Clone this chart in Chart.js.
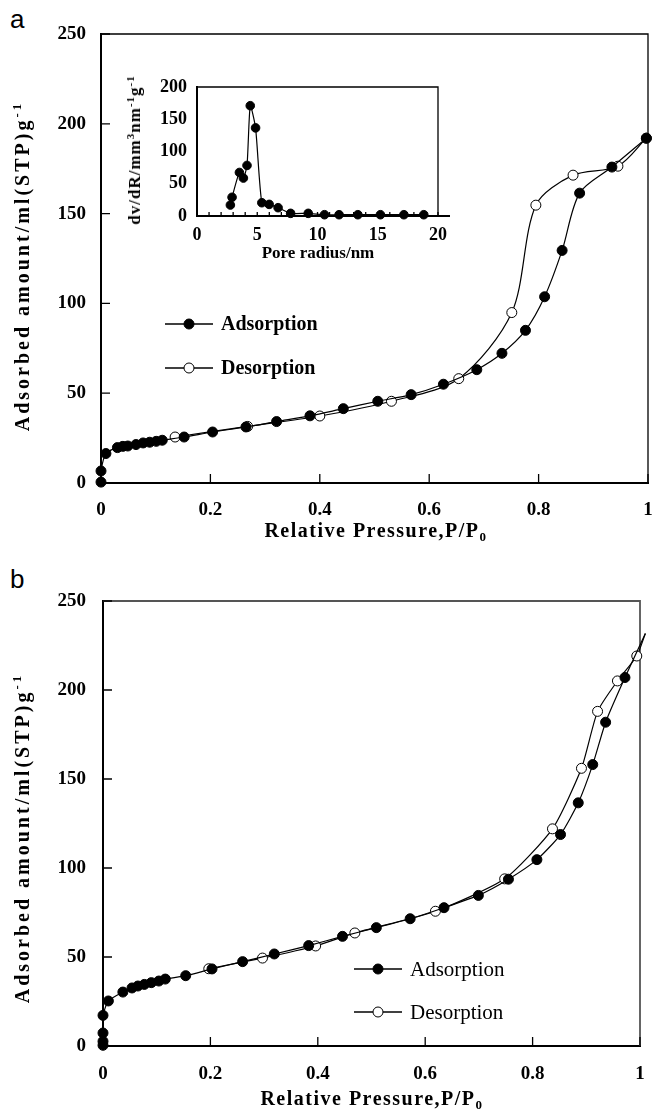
<!DOCTYPE html>
<html>
<head>
<meta charset="utf-8">
<script src="https://cdn.jsdelivr.net/npm/chart.js@4.4.0/dist/chart.umd.min.js"></script>
<style>
  body { margin: 0; background: #fff; width: 654px; height: 1116px; position: relative; overflow: hidden; }
  canvas { position: absolute; }
  .t { position: absolute; font: bold 20px "Liberation Serif", serif; white-space: nowrap; transform: translate(-50%, -50%); color: #000; letter-spacing: 1.5px; }
  .yt { transform: translate(-50%, -50%) rotate(-90deg); letter-spacing: 3px; }
  .t sup { font-size: 0.65em; vertical-align: 0.55em; line-height: 0; }
  .t sub { font-size: 0.65em; vertical-align: -0.35em; line-height: 0; }
  .panel { position: absolute; font: 26px "Liberation Sans", sans-serif; }
</style>
</head>
<body>
<div class="panel" style="left:10px;top:4px">a</div>
<div class="panel" style="left:10px;top:564px">b</div>

<canvas id="chartA" width="654" height="550" style="left:0;top:0;width:654px;height:550px"></canvas>
<canvas id="inset" width="340" height="200" style="left:120px;top:60px;width:340px;height:200px"></canvas>
<canvas id="chartB" width="654" height="556" style="left:0;top:560px;width:654px;height:556px"></canvas>

<div class="t yt" style="left:22px;top:266px">Adsorbed amount/ml(STP)g<sup>-1</sup></div>
<div class="t" style="left:376px;top:530px">Relative Pressure,P/P<sub>0</sub></div>
<div class="t yt" style="left:135px;top:150px;font-size:17px;letter-spacing:1px">dv/dR/mm<sup>3</sup>nm<sup>-1</sup>g<sup>-1</sup></div>
<div class="t" style="left:318px;top:253px;font-size:17px;letter-spacing:0">Pore radius/nm</div>
<div class="t yt" style="left:22px;top:838px">Adsorbed amount/ml(STP)g<sup>-1</sup></div>
<div class="t" style="left:372px;top:1098px">Relative Pressure,P/P<sub>0</sub></div>

<script>
// panel a isotherm
const aAdsP = [0, 0, 0.009, 0.030, 0.040, 0.049, 0.064, 0.077, 0.089, 0.101, 0.112, 0.152, 0.204, 0.265, 0.321, 0.382, 0.443, 0.506, 0.567, 0.626, 0.687, 0.733, 0.776, 0.811, 0.843, 0.875, 0.934, 0.997];
const aAdsV = [0.5, 6.7, 16.4, 19.7, 20.4, 20.6, 21.4, 22.3, 22.7, 23.2, 23.8, 25.6, 28.4, 31.2, 34.2, 37.4, 41.4, 45.5, 49.2, 55.0, 63.1, 72.2, 85.0, 103.7, 129.5, 161.4, 175.9, 192];
const aDesP = [0.1355, 0.268, 0.400, 0.531, 0.654, 0.751, 0.795, 0.863, 0.945, 0.997];
const aDesV = [25.6, 31.5, 37.3, 45.5, 58.1, 94.9, 154.7, 171.4, 176.4, 192];

// inset: pore size distribution
const poreR = [2.77, 2.91, 3.52, 3.85, 4.15, 4.42, 4.86, 5.38, 5.99, 6.73, 7.77, 9.23, 10.58, 11.79, 13.35, 15.22, 17.17, 18.82];
const poreDv = [17, 29, 67.5, 58.8, 78.4, 171, 136.6, 20.6, 18, 12.9, 4.1, 4.1, 2, 2, 2, 2, 2, 2];

// panel b isotherm (last point only continues the line past P/P0 = 1)
const bAdsP = [0, 0, 0, 0, 0.010, 0.037, 0.054, 0.065, 0.077, 0.090, 0.104, 0.116, 0.154, 0.203, 0.260, 0.319, 0.383, 0.446, 0.509, 0.572, 0.635, 0.699, 0.755, 0.808, 0.852, 0.885, 0.912, 0.936, 0.972, 1.01];
const bAdsV = [0.4, 2.6, 7.3, 17.2, 25.3, 30.3, 32.6, 33.7, 34.6, 35.6, 36.5, 37.6, 39.5, 43.3, 47.4, 51.7, 56.4, 61.6, 66.5, 71.5, 77.7, 84.6, 93.7, 104.7, 118.8, 136.6, 158.1, 181.9, 207.0, 231.7];
const bDesP = [0.197, 0.297, 0.396, 0.469, 0.619, 0.748, 0.837, 0.891, 0.921, 0.958, 0.994, 1.01];
const bDesV = [43.4, 49.4, 56.2, 63.5, 75.7, 93.9, 122.0, 156.0, 188.0, 205.1, 219.1, 231.7];

const xTicks = [0, 0.2, 0.4, 0.6, 0.8, 1];
const yTicks = [0, 50, 100, 150, 200, 250];
const rTicks = [0, 5, 10, 15, 20];
const rMinor = [1, 2, 3, 4, 6, 7, 8, 9, 11, 12, 13, 14, 16, 17, 18, 19];
const dvTicks = [0, 50, 100, 150, 200];

const serif = 'Liberation Serif';

function pts(xs, ys) {
  return xs.map((x, i) => ({ x: x, y: ys[i] }));
}

function series(label, data, filled, r, tension, xCut) {
  return {
    label: label,
    data: data,
    borderColor: '#000',
    borderWidth: 1.2,
    tension: tension,
    pointRadius: ctx => (ctx.raw && ctx.raw.x > xCut ? 0 : r),
    pointBackgroundColor: filled ? '#000' : '#fff',
    pointBorderColor: '#000',
    pointBorderWidth: 1,
    clip: false
  };
}

function axis(min, max, ticks, size, pad, fontSize) {
  return {
    type: 'linear',
    min: min,
    max: max,
    afterBuildTicks: s => { s.ticks = ticks.map(v => ({ value: v })); },
    afterFit: s => {
      if (s.isHorizontal()) s.height = size; else s.width = size;
      s.paddingLeft = 0; s.paddingRight = 0; s.paddingTop = 0; s.paddingBottom = 0;
    },
    grid: { display: false, drawTicks: false },
    border: { display: true, color: '#000', width: 2 },
    ticks: {
      padding: pad,
      color: '#000',
      maxRotation: 0,
      autoSkip: false,
      callback: v => String(v),
      font: { family: serif, size: fontSize, weight: 'bold' }
    }
  };
}

// box, inward ticks and legend
const frame = {
  id: 'frame',
  beforeDatasetsDraw(chart, args, o) {
    const { ctx, chartArea: a, scales } = chart;
    ctx.save();
    ctx.strokeStyle = o.boxColor;
    ctx.lineWidth = o.boxWidth;
    ctx.beginPath();
    ctx.moveTo(a.left, a.top);
    ctx.lineTo(a.right, a.top);
    ctx.lineTo(a.right, a.bottom);
    ctx.stroke();
    if (o.extend) {
      ctx.strokeStyle = '#000';
      ctx.lineWidth = 2;
      ctx.beginPath();
      ctx.moveTo(a.right, a.bottom);
      ctx.lineTo(a.right + o.extend, a.bottom);
      ctx.stroke();
    }
    ctx.strokeStyle = '#000';
    ctx.lineWidth = 1.3;
    ctx.beginPath();
    scales.x.ticks.forEach(t => {
      const px = scales.x.getPixelForValue(t.value);
      ctx.moveTo(px, a.bottom);
      ctx.lineTo(px, a.bottom - o.tick);
    });
    (o.minor || []).forEach(v => {
      const px = scales.x.getPixelForValue(v);
      ctx.moveTo(px, a.bottom);
      ctx.lineTo(px, a.bottom - o.tick);
    });
    if (o.yTicks) {
      scales.y.ticks.forEach(t => {
        const py = scales.y.getPixelForValue(t.value);
        ctx.moveTo(a.left, py);
        ctx.lineTo(a.left + o.tick, py);
      });
    }
    ctx.stroke();
    ctx.restore();
  },
  afterDraw(chart, args, o) {
    const L = o.legend;
    if (!L) return;
    const ctx = chart.ctx;
    ctx.save();
    chart.data.datasets.forEach((ds, i) => {
      const y = L.y[i];
      ctx.strokeStyle = '#000';
      ctx.lineWidth = 1.3;
      ctx.beginPath();
      ctx.moveTo(L.x0, y);
      ctx.lineTo(L.x1, y);
      ctx.stroke();
      ctx.beginPath();
      ctx.arc((L.x0 + L.x1) / 2, y, 5, 0, Math.PI * 2);
      ctx.fillStyle = ds.pointBackgroundColor;
      ctx.fill();
      ctx.lineWidth = 1;
      ctx.stroke();
      ctx.fillStyle = '#000';
      ctx.font = L.font;
      ctx.textBaseline = 'middle';
      ctx.fillText(ds.label, L.x1 + 8, y + 1);
    });
    ctx.restore();
  }
};

Chart.register(frame);

function draw() {
  new Chart(document.getElementById('chartA'), {
    type: 'scatter',
    data: {
      datasets: [
        series('Adsorption', pts(aAdsP, aAdsV), true, 5, 0.3, 1.005),
        series('Desorption', pts(aDesP, aDesV), false, 5, 0.3, 1.005)
      ]
    },
    options: {
      responsive: false,
      devicePixelRatio: 1,
      animation: false,
      showLine: true,
      layout: { padding: { left: 0, right: 4, top: 34, bottom: 0 } },
      scales: {
        x: axis(0, 1, xTicks, 67, 16, 19),
        y: axis(0, 250, yTicks, 101, 15, 19)
      },
      plugins: {
        legend: { display: false },
        tooltip: { enabled: false },
        frame: {
          boxColor: '#000', boxWidth: 1.3, tick: 9, yTicks: true,
          legend: { x0: 165, x1: 213, y: [324, 368], font: 'bold 20px "Liberation Serif"' }
        }
      }
    }
  });

  new Chart(document.getElementById('inset'), {
    type: 'scatter',
    data: {
      datasets: [series('dv/dR', pts(poreR, poreDv), true, 4.3, 0.2, 100)]
    },
    options: {
      responsive: false,
      devicePixelRatio: 1,
      animation: false,
      showLine: true,
      layout: { padding: { left: 0, right: 22, top: 27, bottom: 0 } },
      scales: {
        x: axis(0, 20, rTicks, 44, 9, 18),
        y: axis(0, 200, dvTicks, 77, 10, 18)
      },
      plugins: {
        legend: { display: false },
        tooltip: { enabled: false },
        frame: { boxColor: '#000', boxWidth: 1.3, tick: 4, yTicks: false, minor: rMinor, extend: 12 }
      }
    }
  });

  new Chart(document.getElementById('chartB'), {
    type: 'scatter',
    data: {
      datasets: [
        series('Adsorption', pts(bAdsP, bAdsV), true, 5, 0.2, 1.005),
        series('Desorption', pts(bDesP, bDesV), false, 5, 0.2, 1.005)
      ]
    },
    options: {
      responsive: false,
      devicePixelRatio: 1,
      animation: false,
      showLine: true,
      layout: { padding: { left: 0, right: 14, top: 41, bottom: 0 } },
      scales: {
        x: axis(0, 1, xTicks, 70, 17, 19),
        y: axis(0, 250, yTicks, 103, 17, 19)
      },
      plugins: {
        legend: { display: false },
        tooltip: { enabled: false },
        frame: {
          boxColor: '#555', boxWidth: 1.8, tick: 9, yTicks: true,
          legend: { x0: 354, x1: 402, y: [409, 452], font: '21px "Liberation Serif"' }
        }
      }
    }
  });
}

Promise.all([
  document.fonts.load('bold 19px "Liberation Serif"'),
  document.fonts.load('21px "Liberation Serif"')
]).then(draw, draw);
</script>
</body>
</html>
